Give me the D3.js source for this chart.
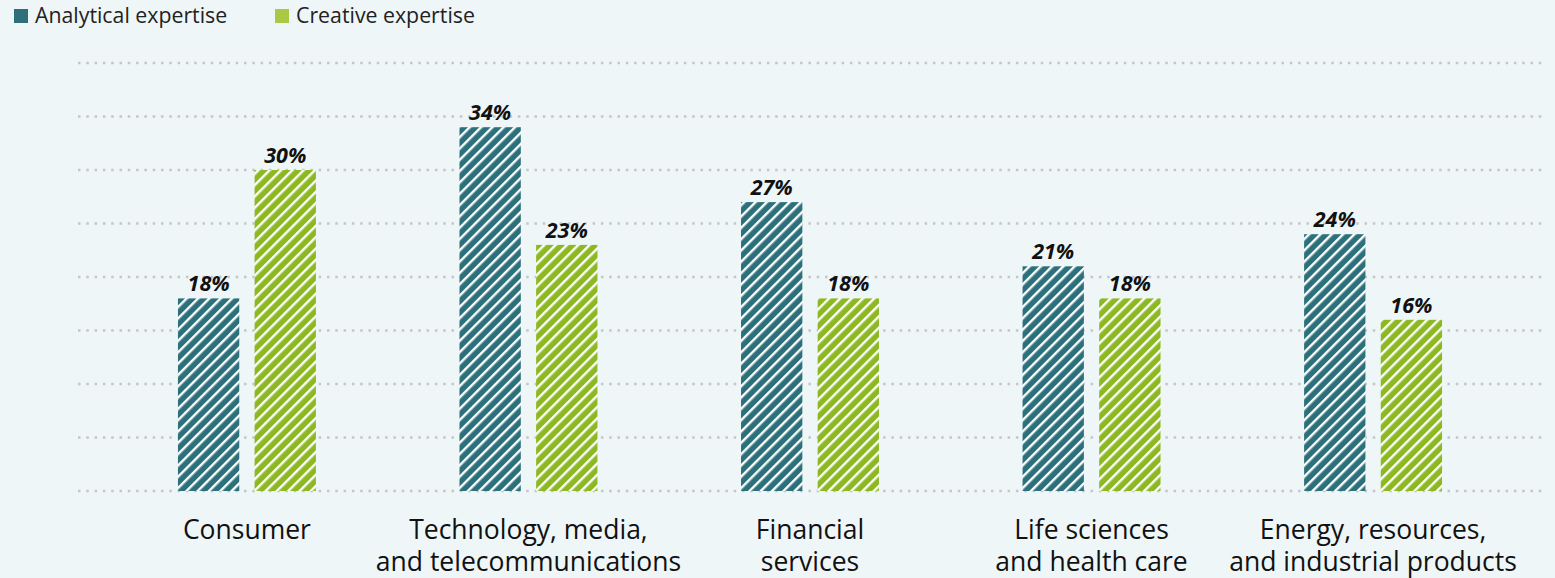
<!DOCTYPE html>
<html lang="en">
	<head>
		<meta charset="utf-8">
		<title>Analytical vs creative expertise</title>
		<script src="https://d3js.org/d3.v7.min.js"></script>
		<style type="text/css">
            body {
                margin: 0;
                background: #eef6f8;
                font-family: "Open Sans", "Noto Sans", sans-serif;
            }
		</style>
	</head>
	<body>
        <svg></svg>
		<script type="text/javascript">

			// data
			var categories = [
				["Consumer"],
				["Technology, media,", "and telecommunications"],
				["Financial", "services"],
				["Life sciences", "and health care"],
				["Energy, resources,", "and industrial products"]
			];
			var seriesNames = ["Analytical expertise", "Creative expertise"];
			var analytical = [18, 34, 27, 21, 24];
			var creative = [30, 23, 18, 18, 16];
			var gridTicks = [0, 5, 10, 15, 20, 25, 30, 35, 40];

			var w = 1555;
			var h = 578;
			var colors = ["#2c707b", "#8cb822"];
			var legendColors = ["#2e6f7a", "#a9c944"];

			var svg = d3.select("svg")
						.attr("width", w)
						.attr("height", h);

			// hatch patterns
			var defs = svg.append("defs");
			colors.forEach((c, i) => {
				var p = defs.append("pattern")
					.attr("id", "hatch" + i)
					.attr("patternUnits", "userSpaceOnUse")
					.attr("width", 8)
					.attr("height", 8)
					.attr("patternTransform", "rotate(45)");
				p.append("rect").attr("width", 8).attr("height", 8).attr("fill", c);
				p.append("rect").attr("x", 0).attr("width", 2.4).attr("height", 8).attr("fill", "#fff");
			});

			var x = d3.scaleBand()
				.domain(d3.range(categories.length))
				.range([78, 1542])
				.paddingInner(0.51)
				.paddingOuter(0.355);

			var xInner = d3.scaleBand()
				.domain([0, 1])
				.range([0, x.bandwidth()])
				.paddingInner(0.2);

			var y = d3.scaleLinear().domain([0, 40]).range([491, 63]);

			// dotted gridlines
			svg.append("g").selectAll("line")
				.data(gridTicks).enter()
				.append("line")
				.attr("x1", 78)
				.attr("x2", 1545)
				.attr("y1", d => y(d))
				.attr("y2", d => y(d))
				.attr("stroke", "#c4c6c8")
				.attr("stroke-width", 2.5)
				.attr("stroke-dasharray", "2.5,5.8");

			var rows = categories.map((c, i) => [analytical[i], creative[i]]);

			var groups = svg.selectAll("g.group")
				.data(rows).enter()
				.append("g")
				.attr("class", "group")
				.attr("transform", (d, i) => `translate(${x(i)},0)`);

			groups.selectAll("rect")
				.data(d => d).enter()
				.append("rect")
				.attr("x", (d, j) => xInner(j))
				.attr("width", xInner.bandwidth())
				.attr("y", d => y(d))
				.attr("height", d => y(0) - y(d))
				.attr("fill", (d, j) => `url(#hatch${j})`);

			groups.selectAll("text.val")
				.data(d => d).enter()
				.append("text")
				.attr("class", "val")
				.attr("x", (d, j) => xInner(j) + xInner.bandwidth() / 2)
				.attr("y", d => y(d) - 7)
				.attr("text-anchor", "middle")
				.attr("font-size", 21.5)
				.attr("font-weight", "bold")
				.attr("font-style", "italic")
				.attr("fill", "#111")
				.text(d => d + "%");

			// category labels
			var labels = svg.selectAll("text.cat")
				.data(categories).enter()
				.append("text")
				.attr("class", "cat")
				.attr("text-anchor", "middle")
				.attr("font-size", 26.5)
				.attr("fill", "#111");
			labels.selectAll("tspan")
				.data((d, i) => d.map(t => ({t: t, i: i}))).enter()
				.append("tspan")
				.attr("x", d => x(d.i) + x.bandwidth() / 2)
				.attr("y", (d, k) => 539 + k * 32)
				.text(d => d.t);

			// legend
			var legendX = [14, 275];
			var legend = svg.selectAll("g.legend")
				.data(seriesNames).enter()
				.append("g")
				.attr("class", "legend")
				.attr("transform", (d, i) => `translate(${legendX[i]},0)`);
			legend.append("rect")
				.attr("y", 9)
				.attr("width", 14)
				.attr("height", 14)
				.attr("fill", (d, i) => legendColors[i]);
			legend.append("text")
				.attr("x", 21)
				.attr("y", 23)
				.attr("font-size", 21.3)
				.attr("fill", "#222")
				.text(d => d);

		</script>
	</body>
</html>
